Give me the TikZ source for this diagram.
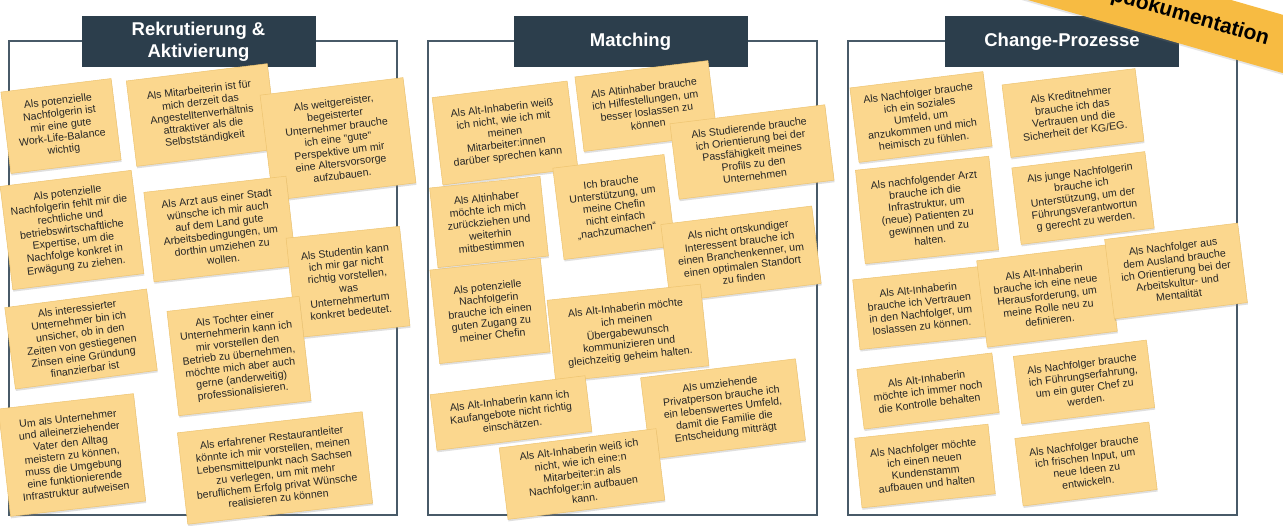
\documentclass[tikz,border=0pt]{standalone}
\usepackage{fontspec}
\setmainfont{Liberation Sans}
\usetikzlibrary{calc,shadows}

\definecolor{hdrfill}{RGB}{44,62,76}
\definecolor{frameline}{RGB}{72,90,104}
\definecolor{notefill}{RGB}{251,215,142}
\definecolor{noteedge}{RGB}{238,196,112}
\definecolor{notefold}{RGB}{224,184,110}
\definecolor{notetext}{RGB}{38,38,38}
\definecolor{bandfill}{RGB}{247,187,66}

\begin{document}
\begin{tikzpicture}[x=1pt,y=-1pt,
  frame/.style={draw=frameline,line width=1.1pt,fill=white,inner sep=0},
  hdr/.style={fill=hdrfill,text=white,align=center,inner sep=0,
    font=\bfseries\fontsize{18.5}{21.7}\selectfont,minimum width=234,minimum height=51},
  note/.style={draw=noteedge,fill=notefill,line width=0.5pt,text=notetext,align=center,inner sep=2pt,
    font=\fontsize{10.6}{12.2}\selectfont,
    drop shadow={shadow xshift=0.5pt,shadow yshift=-2pt,opacity=0.25},
    append after command={\pgfextra{
      \coordinate (fa) at ($(\tikzlastnode.south east)!7pt!(\tikzlastnode.south west)$);
      \coordinate (fb) at ($(\tikzlastnode.south east)!7pt!(\tikzlastnode.north east)$);
      \coordinate (fc) at ($(fa)+(fb)-(\tikzlastnode.south east)$);
      \fill[white] (\tikzlastnode.south east) -- (fa) -- (fb) -- cycle;
      \fill[notefold] (fa) -- (fb) -- (fc) -- cycle;}}},
  band/.style={fill=bandfill,text=black,inner sep=0,minimum width=520,minimum height=56,
    font=\bfseries\fontsize{21}{24}\selectfont,
    drop shadow={shadow xshift=0.5pt,shadow yshift=-2pt,opacity=0.2}}]

  \useasboundingbox (0,0) rectangle (1283,526);
  \clip (0,0) rectangle (1283,526);
  \fill[white] (0,0) rectangle (1283,526);

  \node[frame,minimum width=388,minimum height=474] (box1) at (203,278) {};
  \node[frame,minimum width=389,minimum height=474] (box2) at (622.5,278) {};
  \node[frame,minimum width=389,minimum height=474] (box3) at (1042.5,278) {};

  \node[hdr] (rekru)  at (198.5,41.5) {Rekrutierung \&\\Aktivierung};
  \node[hdr] (match)  at (630.5,41.5) {Matching};
  \node[hdr] (change) at (1062,41.5)  {Change-Prozesse};

  \node[note,rotate=7,minimum width=111,minimum height=82] (n1) at (61,126)
    {Als potenzielle\\Nachfolgerin ist\\mir eine gute\\Work-Life-Balance\\wichtig};
  \node[note,rotate=7,minimum width=142,minimum height=86] (n2) at (202,115)
    {Als Mitarbeiterin ist für\\mich derzeit das\\Angestelltenverhältnis\\attraktiver als die\\Selbstständigkeit};
  \node[note,rotate=7,minimum width=144,minimum height=106] (n3) at (338,139)
    {Als weitgereister,\\begeisterter\\Unternehmer brauche\\ich eine "gute"\\Perspektive um mir\\eine Altersvorsorge\\aufzubauen.};
  \node[note,rotate=7,minimum width=132,minimum height=104] (n4) at (72,230)
    {Als potenzielle\\Nachfolgerin fehlt mir die\\rechtliche und\\betriebswirtschaftliche\\Expertise, um die\\Nachfolge konkret in\\Erwägung zu ziehen.};
  \node[note,rotate=6.5,minimum width=143,minimum height=90] (n5) at (220,229)
    {Als Arzt aus einer Stadt\\wünsche ich mir auch\\auf dem Land gute\\Arbeitsbedingungen, um\\dorthin umziehen zu\\wollen.};
  \node[note,rotate=6,minimum width=114,minimum height=100] (n6) at (348,282)
    {Als Studentin kann\\ich mir gar nicht\\richtig vorstellen,\\was\\Unternehmertum\\konkret bedeutet.};
  \node[note,rotate=7.5,minimum width=143,minimum height=82] (n7) at (81,339)
    {Als interessierter\\Unternehmer bin ich\\unsicher, ob in den\\Zeiten von gestiegenen\\Zinsen eine Gründung\\finanzierbar ist};
  \node[note,rotate=6.5,minimum width=133,minimum height=105] (n8) at (239,356)
    {Als Tochter einer\\Unternehmerin kann ich\\mir vorstellen den\\Betrieb zu übernehmen,\\möchte mich aber auch\\gerne (anderweitig)\\professionalisieren.};
  \node[note,rotate=6.5,minimum width=136,minimum height=108] (n9) at (72,455)
    {Um als Unternehmer\\und alleinerziehender\\Vater den Alltag\\meistern zu können,\\muss die Umgebung\\eine funktionierende\\Infrastruktur aufweisen};
  \node[note,rotate=6.5,minimum width=186,minimum height=92] (n10) at (275,468)
    {Als erfahrener Restaurantleiter\\könnte ich mir vorstellen, meinen\\Lebensmittelpunkt nach Sachsen\\zu verlegen, um mit mehr\\beruflichem Erfolg privat Wünsche\\realisieren zu können};

  \node[note,rotate=7,minimum width=136,minimum height=88] (m1) at (505,133)
    {Als Alt-Inhaberin weiß\\ich nicht, wie ich mit\\meinen\\Mitarbeiter:innen\\darüber sprechen kann};
  \node[note,rotate=7,minimum width=134,minimum height=75] (m2) at (646,106)
    {Als Altinhaber brauche\\ich Hilfestellungen, um\\besser loslassen zu\\können};
  \node[note,rotate=7,minimum width=156,minimum height=76] (m3) at (752,152)
    {Als Studierende brauche\\ich Orientierung bei der\\Passfähigkeit meines\\Profils zu den\\Unternehmen};
  \node[note,rotate=6,minimum width=111,minimum height=80] (m4) at (489,222)
    {Als Altinhaber\\möchte ich mich\\zurückziehen und\\weiterhin\\mitbestimmen};
  \node[note,rotate=7,minimum width=112,minimum height=92] (m5) at (614,207)
    {Ich brauche\\Unterstützung, um\\meine Chefin\\nicht einfach\\„nachzumachen“};
  \node[note,rotate=7,minimum width=152,minimum height=78] (m6) at (741,254)
    {Als nicht ortskundiger\\Interessent brauche ich\\einen Branchenkenner, um\\einen optimalen Standort\\zu finden};
  \node[note,rotate=6,minimum width=111,minimum height=94] (m7) at (490,311)
    {Als potenzielle\\Nachfolgerin\\brauche ich einen\\guten Zugang zu\\meiner Chefin};
  \node[note,rotate=6,minimum width=154,minimum height=82] (m8) at (628,333)
    {Als Alt-Inhaberin möchte\\ich meinen\\Übergabewunsch\\kommunizieren und\\gleichzeitig geheim halten.};
  \node[note,rotate=7,minimum width=156,minimum height=56] (m9) at (511,413)
    {Als Alt-Inhaberin kann ich\\Kaufangebote nicht richtig\\einschätzen.};
  \node[note,rotate=7,minimum width=156,minimum height=82] (m10) at (723,409)
    {Als umziehende\\Privatperson brauche ich\\ein lebenswertes Umfeld,\\damit die Familie die\\Entscheidung mitträgt};
  \node[note,rotate=7,minimum width=158,minimum height=72] (m11) at (582,474)
    {Als Alt-Inhaberin weiß ich\\nicht, wie ich eine:n\\Mitarbeiter:in als\\Nachfolger:in aufbauen\\kann.};

  \node[note,rotate=7,minimum width=134,minimum height=75] (c1) at (921,117)
    {Als Nachfolger brauche\\ich ein soziales\\Umfeld, um\\anzukommen und mich\\heimisch zu fühlen.};
  \node[note,rotate=7,minimum width=134,minimum height=73] (c2) at (1073,113)
    {Als Kreditnehmer\\brauche ich das\\Vertrauen und die\\Sicherheit der KG/EG.};
  \node[note,rotate=6,minimum width=134,minimum height=94] (c3) at (927,210)
    {Als nachfolgender Arzt\\brauche ich die\\Infrastruktur, um\\(neue) Patienten zu\\gewinnen und zu\\halten.};
  \node[note,rotate=7,minimum width=134,minimum height=77] (c4) at (1083,198)
    {Als junge Nachfolgerin\\brauche ich\\Unterstützung, um der\\Führungsverantwortun\\g gerecht zu werden.};
  \node[note,rotate=6,minimum width=128,minimum height=70] (c5) at (920,308)
    {Als Alt-Inhaberin\\brauche ich Vertrauen\\in den Nachfolger, um\\loslassen zu können.};
  \node[note,rotate=7,minimum width=131,minimum height=87] (c6) at (1047,296)
    {Als Alt-Inhaberin\\brauche ich eine neue\\Herausforderung, um\\meine Rolle neu zu\\definieren.};
  \node[note,rotate=7,minimum width=134,minimum height=80] (c7) at (1176,271)
    {Als Nachfolger aus\\dem Ausland brauche\\ich Orientierung bei der\\Arbeitskultur- und\\Mentalität};
  \node[note,rotate=7,minimum width=136,minimum height=60] (c8) at (928,391)
    {Als Alt-Inhaberin\\möchte ich immer noch\\die Kontrolle behalten};
  \node[note,rotate=7,minimum width=134,minimum height=68] (c9) at (1084,382)
    {Als Nachfolger brauche\\ich Führungserfahrung,\\um ein guter Chef zu\\werden.};
  \node[note,rotate=6,minimum width=134,minimum height=70] (c10) at (925,466)
    {Als Nachfolger möchte\\ich einen neuen\\Kundenstamm\\aufbauen und halten};
  \node[note,rotate=7,minimum width=135,minimum height=68] (c11) at (1086,464)
    {Als Nachfolger brauche\\ich frischen Input, um\\neue Ideen zu\\entwickeln.};

  \node[band,rotate=-16] (doku) at (1147,5) {Workshopdokumentation};
\end{tikzpicture}
\end{document}
